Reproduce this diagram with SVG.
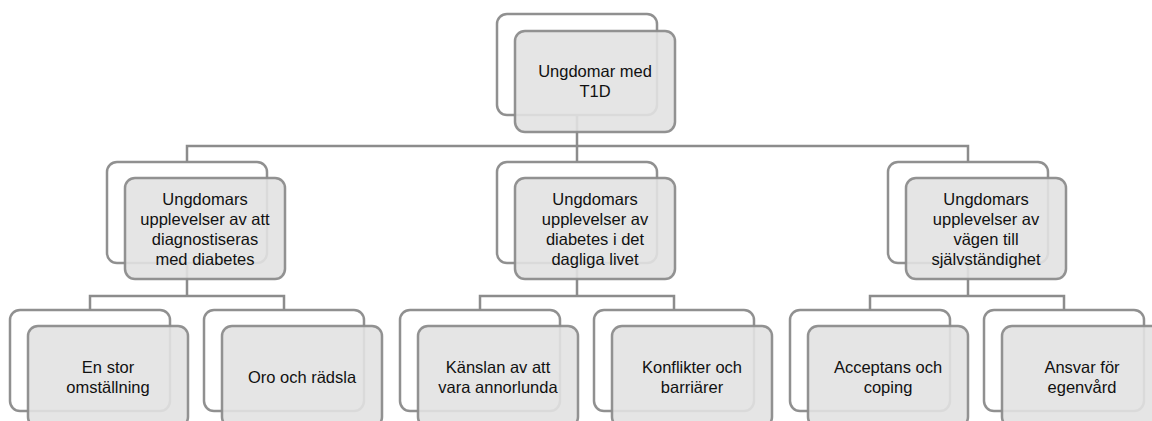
<svg xmlns="http://www.w3.org/2000/svg" width="1152" height="421" viewBox="0 0 1152 421">
<style>
.bk{fill:#ffffff;stroke:#909090;stroke-width:2.5}
.fr{fill:#e2e2e2;fill-opacity:0.9;stroke:#8c8c8c;stroke-width:2.5;stroke-opacity:0.95}
.cn{fill:none;stroke:#8c8c8c;stroke-width:2.5}
text{font-family:"Liberation Sans",Arial,sans-serif;font-size:16.5px;fill:#111;text-anchor:middle}
</style>
<g id="backs">
<rect class="bk" x="497" y="14" width="160" height="101" rx="10"/>
<rect class="bk" x="107" y="162" width="160" height="101" rx="10"/>
<rect class="bk" x="497" y="162" width="160" height="101" rx="10"/>
<rect class="bk" x="888" y="162" width="160" height="101" rx="10"/>
<rect class="bk" x="10" y="310" width="160" height="101" rx="10"/>
<rect class="bk" x="204" y="310" width="160" height="101" rx="10"/>
<rect class="bk" x="400" y="310" width="160" height="101" rx="10"/>
<rect class="bk" x="594" y="310" width="160" height="101" rx="10"/>
<rect class="bk" x="790" y="310" width="160" height="101" rx="10"/>
<rect class="bk" x="984" y="310" width="160" height="101" rx="10"/>
</g>
<g id="connectors">
<path class="cn" d="M577 115 V146 M187 162 V146 H968 V162 M577 146 V162"/>
<path class="cn" d="M187 263 V296 M90 310 V296 H284 V310"/>
<path class="cn" d="M577 263 V296 M480 310 V296 H674 V310"/>
<path class="cn" d="M968 263 V296 M870 310 V296 H1064 V310"/>
</g>
<g id="n0">
<rect class="fr" x="515" y="31" width="160" height="101" rx="10"/>
<text x="595" y="77">Ungdomar med</text><text x="595" y="97">T1D</text>
</g>
<g id="n1">
<rect class="fr" x="125" y="178" width="160" height="101" rx="10"/>
<text x="205" y="205">Ungdomars</text><text x="205" y="225">upplevelser av att</text><text x="205" y="245">diagnostiseras</text><text x="205" y="265">med diabetes</text>
</g>
<g id="n2">
<rect class="fr" x="515" y="178" width="160" height="101" rx="10"/>
<text x="595" y="205">Ungdomars</text><text x="595" y="225">upplevelser av</text><text x="595" y="245">diabetes i det</text><text x="595" y="265">dagliga livet</text>
</g>
<g id="n3">
<rect class="fr" x="906" y="178" width="160" height="101" rx="10"/>
<text x="986" y="205">Ungdomars</text><text x="986" y="225">upplevelser av</text><text x="986" y="245">vägen till</text><text x="986" y="265">självständighet</text>
</g>
<g id="n4">
<rect class="fr" x="28" y="326" width="160" height="101" rx="10"/>
<text x="108" y="373">En stor</text><text x="108" y="393">omställning</text>
</g>
<g id="n5">
<rect class="fr" x="222" y="326" width="160" height="101" rx="10"/>
<text x="302" y="383">Oro och rädsla</text>
</g>
<g id="n6">
<rect class="fr" x="418" y="326" width="160" height="101" rx="10"/>
<text x="498" y="373">Känslan av att</text><text x="498" y="393">vara annorlunda</text>
</g>
<g id="n7">
<rect class="fr" x="612" y="326" width="160" height="101" rx="10"/>
<text x="692" y="373">Konflikter och</text><text x="692" y="393">barriärer</text>
</g>
<g id="n8">
<rect class="fr" x="808" y="326" width="160" height="101" rx="10"/>
<text x="888" y="373">Acceptans och</text><text x="888" y="393">coping</text>
</g>
<g id="n9">
<rect class="fr" x="1002" y="326" width="160" height="101" rx="10"/>
<text x="1082" y="373">Ansvar för</text><text x="1082" y="393">egenvård</text>
</g>
</svg>
